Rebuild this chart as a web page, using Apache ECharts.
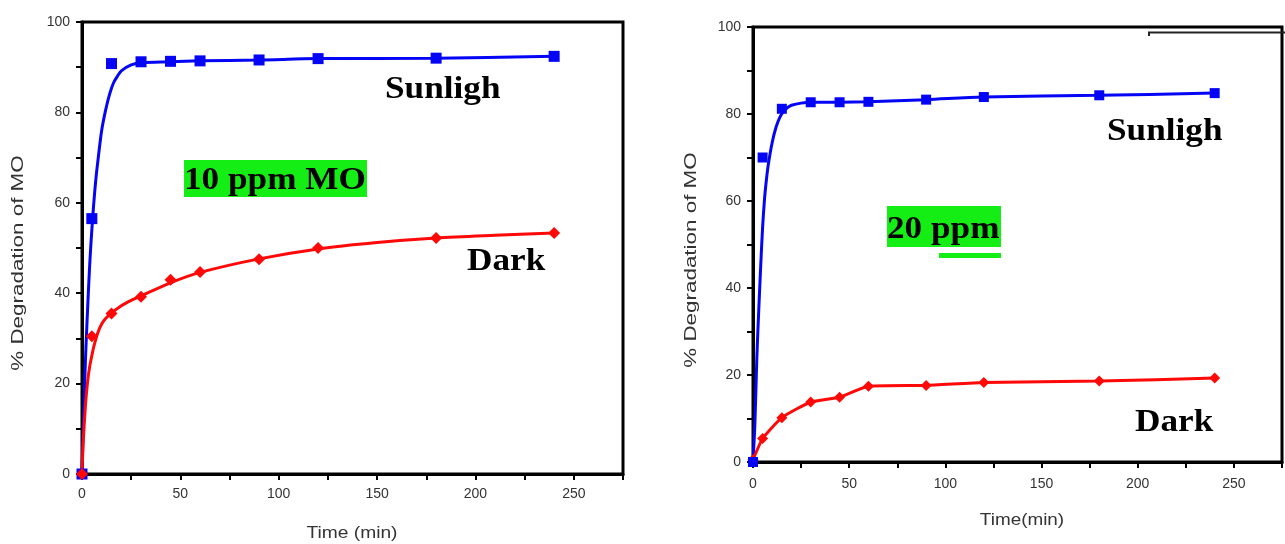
<!DOCTYPE html>
<html>
<head>
<meta charset="utf-8">
<script src="https://cdn.jsdelivr.net/npm/echarts@6/dist/echarts.min.js"></script>
<style>
  html, body { margin: 0; padding: 0; background: #fff; }
  #chart { width: 1285px; height: 544px; }
</style>
</head>
<body>
<div id="chart"></div>
<script>
// Sampling times (min) of the measured points
const timeMin = [0, 5, 15, 30, 45, 60, 90, 120, 180, 240];

// 10 ppm MO: measured % degradation
const sun10 = [0, 56.5, 90.8, 91.2, 91.3, 91.4, 91.6, 91.9, 92.0, 92.4];
const dark10 = [0, 30.5, 35.5, 39.2, 43.0, 44.7, 47.5, 50.0, 52.2, 53.3];

// 10 ppm MO: fitted curves
const sunFitT10 = [0, 0.5, 1, 1.5, 2, 3, 4, 5, 6, 7, 8, 10, 12, 14, 16, 18, 20, 25, 30, 45, 60, 90, 120, 180, 240];
const sunFit10 = [1, 8, 15, 22, 28, 38, 47, 54, 60, 65, 69, 76, 80.5, 84, 86.5, 88, 89.2, 90.5, 91.0, 91.2, 91.4, 91.6, 91.9, 92.0, 92.4];
const darkFitT10 = [0, 0.5, 1, 1.5, 2, 3, 4, 5, 6, 8, 10, 12, 15, 20, 25, 30, 45, 60, 90, 120, 150, 180, 210, 240];
const darkFit10 = [0, 6, 10, 13.5, 16.5, 21, 24, 26.2, 28.2, 31.2, 33.2, 34.4, 35.6, 37.2, 38.4, 39.4, 42.3, 44.6, 47.6, 49.8, 51.2, 52.2, 52.8, 53.3];

// 20 ppm MO: measured % degradation
const sun20 = [0, 70.0, 81.2, 82.7, 82.7, 82.8, 83.3, 83.9, 84.3, 84.8];
const dark20 = [0.5, 5.4, 10.2, 13.8, 14.9, 17.4, 17.6, 18.3, 18.6, 19.3];

// 20 ppm MO: fitted sunlight curve
const sunFitT20 = [0, 1, 2, 3, 4, 5, 6, 7, 8, 10, 12, 14, 16, 18, 20, 25, 30, 45, 60, 90, 120, 180, 240];
const sunFit20 = [0, 9, 24, 35, 45, 54, 60.5, 65, 68.5, 73.5, 77, 79.3, 80.7, 81.5, 82.0, 82.5, 82.7, 82.7, 82.8, 83.3, 83.9, 84.3, 84.8];

// Axis ticks
const xTicks = [0, 50, 100, 150, 200, 250];
const yTicks = [0, 20, 40, 60, 80, 100];

const BLUE = '#0505f5';
const RED = '#ff0808';
const GREEN = '#14ee14';
const SERIF = '"Liberation Serif", "Times New Roman", serif';
const SANS = '"Liberation Sans", Arial, sans-serif';

const pair = (xs, ys) => xs.map((x, i) => [x, ys[i]]);

function xAxisFor(gridIndex, labelMargin) {
  return {
    type: 'value', gridIndex, min: 0, max: 275, interval: 25,
    axisLine: { lineStyle: { color: '#000', width: 3 } },
    axisTick: { show: true, inside: false, length: 6, lineStyle: { color: '#000', width: 2 } },
    axisLabel: {
      margin: labelMargin, color: '#333', fontSize: 14, fontFamily: SANS,
      formatter: v => (xTicks.includes(v) ? String(v) : '')
    },
    splitLine: { show: false }
  };
}
function yAxisFor(gridIndex) {
  return {
    type: 'value', gridIndex, min: 0, max: 100, interval: 10,
    axisLine: { lineStyle: { color: '#000', width: 3 } },
    axisTick: { show: true, inside: false, length: 6, lineStyle: { color: '#000', width: 2 } },
    axisLabel: {
      margin: 12, color: '#333', fontSize: 14, fontFamily: SANS,
      formatter: v => (yTicks.includes(v) ? String(v) : '')
    },
    splitLine: { show: false }
  };
}

function fitLine(name, xi, data, color, smooth) {
  return {
    name, type: 'line', xAxisIndex: xi, yAxisIndex: xi, data,
    smooth, showSymbol: false, symbol: 'none',
    lineStyle: { color, width: 3 }, z: 3, silent: true
  };
}
function points(name, xi, data, color, symbol, size) {
  return {
    name, type: 'scatter', xAxisIndex: xi, yAxisIndex: xi, data,
    symbol, symbolSize: size, itemStyle: { color, opacity: 1 }, z: 4, silent: true
  };
}

// Bold serif annotation, slightly widened; y is the top of the capitals
function label(text, x, y) {
  return {
    type: 'text', x, y: y - 2, scaleX: 1.1, z: 10,
    style: { text, font: 'bold 32px ' + SERIF, fill: '#000', align: 'left', verticalAlign: 'top' }
  };
}
function axisTitle(text, x, y, rot, scaleX) {
  return {
    type: 'text', x, y, rotation: rot, scaleX, z: 10,
    style: { text, font: '16px ' + SANS, fill: '#333', align: 'center', verticalAlign: 'middle' }
  };
}

const chart = echarts.init(document.getElementById('chart'), null, { renderer: 'canvas' });
chart.setOption({
  animation: false,
  backgroundColor: '#fff',
  grid: [
    { left: 82, top: 22, right: 662, bottom: 70, show: true, borderColor: '#000', borderWidth: 3, backgroundColor: 'transparent' },
    { left: 753, top: 27, right: -9, bottom: 82, show: true, borderColor: '#000', borderWidth: 3, backgroundColor: 'transparent' }
  ],
  xAxis: [xAxisFor(0, 13), xAxisFor(1, 15)],
  yAxis: [yAxisFor(0), yAxisFor(1)],
  series: [
    fitLine('Sunlight fit 10 ppm', 0, pair(sunFitT10, sunFit10), BLUE, 0.3),
    fitLine('Dark fit 10 ppm', 0, pair(darkFitT10, darkFit10), RED, 0.3),
    points('Sunlight 10 ppm', 0, pair(timeMin, sun10), BLUE, 'rect', 11),
    points('Dark 10 ppm', 0, pair(timeMin, dark10), RED, 'diamond', 12),

    fitLine('Sunlight fit 20 ppm', 1, pair(sunFitT20, sunFit20), BLUE, 0.3),
    {
      name: 'Dark 20 ppm', type: 'line', xAxisIndex: 1, yAxisIndex: 1,
      data: pair(timeMin, dark20), smooth: 0.15,
      symbol: 'diamond', symbolSize: 11, showSymbol: true,
      lineStyle: { color: RED, width: 3 }, itemStyle: { color: RED, opacity: 1 }, z: 3, silent: true
    },
    points('Sunlight 20 ppm', 1, pair(timeMin, sun20), BLUE, 'rect', 10)
  ],
  graphic: [
    // axis titles
    axisTitle('% Degradation of MO', 19, 263, Math.PI / 2, 1.4),
    axisTitle('Time (min)', 352, 534, 0, 1.2),
    axisTitle('% Degradation of MO', 692, 260, Math.PI / 2, 1.4),
    axisTitle('Time(min)', 1022, 521, 0, 1.18),

    // 10 ppm panel annotations
    { type: 'rect', shape: { x: 184, y: 160, width: 183, height: 37 }, style: { fill: GREEN }, z: 9 },
    label('10 ppm MO', 184, 167),
    label('Sunligh', 385, 76),
    label('Dark', 467, 248),

    // 20 ppm panel annotations
    { type: 'rect', shape: { x: 887, y: 206, width: 114, height: 41 }, style: { fill: GREEN }, z: 9 },
    { type: 'rect', shape: { x: 939, y: 253, width: 62, height: 5 }, style: { fill: GREEN }, z: 9 },
    label('20 ppm', 887, 216),
    label('Sunligh', 1107, 118),
    label('Dark', 1135, 409),

    // frame fragment at the top right
    {
      type: 'polyline', z: 9,
      shape: { points: [[1149, 36], [1149, 32.5], [1285, 32.5]] },
      style: { stroke: '#222', lineWidth: 2, fill: null }
    }
  ]
});
</script>
</body>
</html>
